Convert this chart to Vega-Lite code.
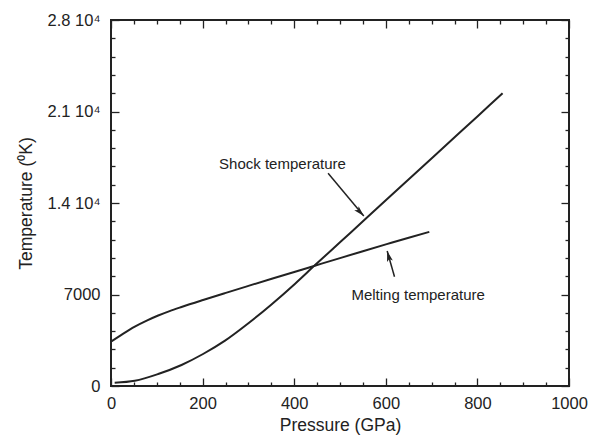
{
  "$schema": "https://vega.github.io/schema/vega-lite/v6.json",
  "width": 458,
  "height": 366,
  "autosize": {"type": "none"},
  "padding": {"left": 111, "top": 20, "right": 31, "bottom": 59},
  "background": "white",
  "config": {
    "view": {"stroke": "#222", "strokeWidth": 2},
    "font": "Liberation Sans",
    "axis": {"domain": false, "grid": false, "tickColor": "#222", "tickWidth": 1.3, "labelColor": "#222", "titleColor": "#222", "labelFontSize": 16.5, "titleFontSize": 17.5, "titleFontWeight": "normal", "labelOverlap": false, "labelFlush": false, "labelBound": false}
  },
  "datasets": {
    "curves": [
      {"series": "Shock", "pressure": 8, "temperature": 250},
      {"series": "Shock", "pressure": 52, "temperature": 405},
      {"series": "Shock", "pressure": 103, "temperature": 918},
      {"series": "Shock", "pressure": 154, "temperature": 1607},
      {"series": "Shock", "pressure": 201, "temperature": 2448},
      {"series": "Shock", "pressure": 249, "temperature": 3470},
      {"series": "Shock", "pressure": 300, "temperature": 4800},
      {"series": "Shock", "pressure": 351, "temperature": 6260},
      {"series": "Shock", "pressure": 402, "temperature": 7830},
      {"series": "Shock", "pressure": 445, "temperature": 9230},
      {"series": "Shock", "pressure": 500, "temperature": 10995},
      {"series": "Shock", "pressure": 556, "temperature": 12790},
      {"series": "Shock", "pressure": 600, "temperature": 14205},
      {"series": "Shock", "pressure": 704, "temperature": 17545},
      {"series": "Shock", "pressure": 800, "temperature": 20625},
      {"series": "Shock", "pressure": 855, "temperature": 22390},
      {"series": "Melting", "pressure": 0, "temperature": 3390},
      {"series": "Melting", "pressure": 26, "temperature": 3990},
      {"series": "Melting", "pressure": 52, "temperature": 4540},
      {"series": "Melting", "pressure": 78, "temperature": 5000},
      {"series": "Melting", "pressure": 103, "temperature": 5390},
      {"series": "Melting", "pressure": 128, "temperature": 5730},
      {"series": "Melting", "pressure": 154, "temperature": 6045},
      {"series": "Melting", "pressure": 201, "temperature": 6580},
      {"series": "Melting", "pressure": 249, "temperature": 7108},
      {"series": "Melting", "pressure": 300, "temperature": 7659},
      {"series": "Melting", "pressure": 351, "temperature": 8205},
      {"series": "Melting", "pressure": 402, "temperature": 8746},
      {"series": "Melting", "pressure": 445, "temperature": 9202},
      {"series": "Melting", "pressure": 500, "temperature": 9785},
      {"series": "Melting", "pressure": 550, "temperature": 10310},
      {"series": "Melting", "pressure": 602, "temperature": 10851},
      {"series": "Melting", "pressure": 650, "temperature": 11345},
      {"series": "Melting", "pressure": 695, "temperature": 11790}
    ],
    "labels": [
      {"label": "Shock temperature", "pressure": 236, "temperature": 16985},
      {"label": "Melting temperature", "pressure": 525, "temperature": 6960}
    ],
    "arrows": [
      {"name": "Shock", "p0": 474, "t0": 16270, "p1": 552, "t1": 13005},
      {"name": "Melting", "p0": 619, "t0": 8360, "p1": 603, "t1": 10330}
    ]
  },
  "layer": [
    {
      "data": {"name": "curves"},
      "mark": {"type": "line", "color": "#222", "strokeWidth": 2, "interpolate": "monotone"},
      "encoding": {
        "x": {"field": "pressure", "type": "quantitative", "scale": {"domain": [0, 1000], "nice": false},
          "axis": {"orient": "bottom", "title": "Pressure (GPa)", "values": [0,50,100,150,200,250,300,350,400,450,500,550,600,650,700,750,800,850,900,950,1000],
            "tickSize": {"condition": {"test": "datum.value % 200 === 0", "value": -8}, "value": -4},
            "labelExpr": "datum.value % 200 === 0 ? '' + datum.value : ''", "labelPadding": 17, "titlePadding": 1}},
        "y": {"field": "temperature", "type": "quantitative", "scale": {"domain": [0, 28000], "nice": false},
          "axis": {"orient": "left", "title": "Temperature (⁰K)", "values": [0,1400,2800,4200,5600,7000,8400,9800,11200,12600,14000,15400,16800,18200,19600,21000,22400,23800,25200,26600,28000],
            "tickSize": {"condition": {"test": "datum.value % 7000 === 0", "value": -8}, "value": -4},
            "labelExpr": "datum.value === 0 ? '0' : datum.value === 7000 ? '7000' : datum.value % 7000 === 0 ? format(datum.value / 10000, '.1f') + ' 10⁴' : ''",
            "labelPadding": 19, "titlePadding": 12}},
        "detail": {"field": "series"}
      }
    },
    {
      "data": {"name": "labels"},
      "mark": {"type": "text", "align": "left", "baseline": "middle", "fontSize": 15, "color": "#222"},
      "encoding": {
        "x": {"field": "pressure", "type": "quantitative",
          "axis": {"orient": "top", "title": null, "labels": false, "values": [0,50,100,150,200,250,300,350,400,450,500,550,600,650,700,750,800,850,900,950,1000],
            "tickSize": {"condition": {"test": "datum.value % 200 === 0", "value": -8}, "value": -4}}},
        "y": {"field": "temperature", "type": "quantitative",
          "axis": {"orient": "right", "title": null, "labels": false, "values": [0,1400,2800,4200,5600,7000,8400,9800,11200,12600,14000,15400,16800,18200,19600,21000,22400,23800,25200,26600,28000],
            "tickSize": {"condition": {"test": "datum.value % 7000 === 0", "value": -8}, "value": -4}}},
        "text": {"field": "label"}
      }
    },
    {
      "data": {"name": "arrows"},
      "mark": {"type": "rule", "color": "#222", "strokeWidth": 1.5},
      "encoding": {
        "x": {"field": "p0", "type": "quantitative", "axis": null},
        "y": {"field": "t0", "type": "quantitative", "axis": null},
        "x2": {"field": "p1"},
        "y2": {"field": "t1"}
      }
    },
    {
      "data": {"name": "arrows"},
      "transform": [{"filter": "datum.name === 'Shock'"}],
      "mark": {"type": "point", "filled": true, "color": "#222", "opacity": 1, "shape": "M0,0L-0.45,1.6L0,1.25L0.45,1.6Z", "size": 180, "angle": 136.5},
      "encoding": {
        "x": {"field": "p1", "type": "quantitative", "axis": null},
        "y": {"field": "t1", "type": "quantitative", "axis": null}
      }
    },
    {
      "data": {"name": "arrows"},
      "transform": [{"filter": "datum.name === 'Melting'"}],
      "mark": {"type": "point", "filled": true, "color": "#222", "opacity": 1, "shape": "M0,0L-0.45,1.6L0,1.25L0.45,1.6Z", "size": 180, "angle": 345},
      "encoding": {
        "x": {"field": "p1", "type": "quantitative", "axis": null},
        "y": {"field": "t1", "type": "quantitative", "axis": null}
      }
    }
  ],
  "resolve": {"axis": {"x": "independent", "y": "independent"}}
}
